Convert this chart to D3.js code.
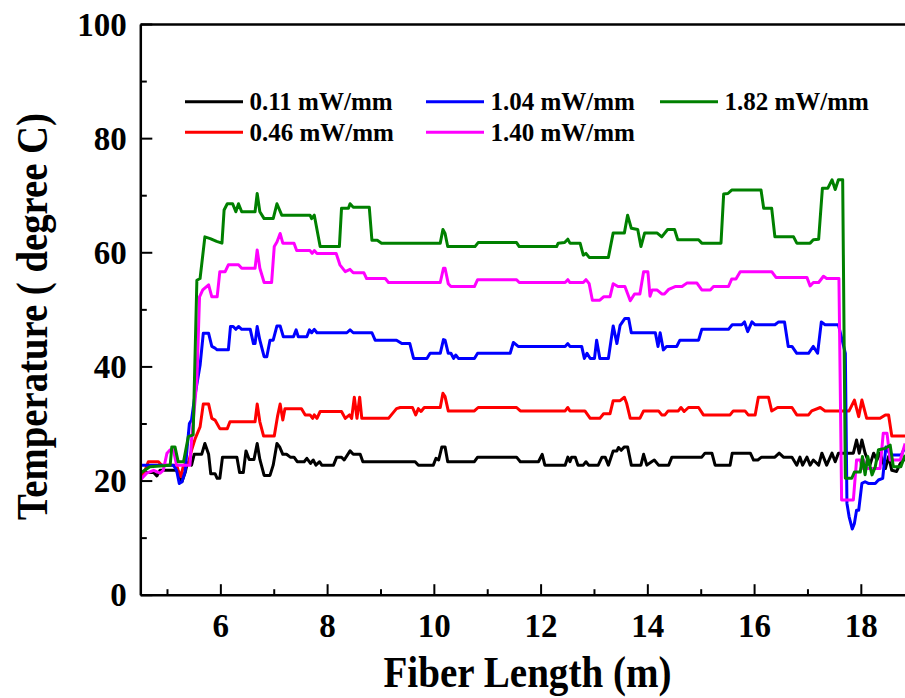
<!DOCTYPE html>
<html>
<head>
<meta charset="utf-8">
<script src="https://cdn.jsdelivr.net/npm/d3@7"></script>
<style>
  html, body { margin: 0; padding: 0; background: #fff; }
  svg { display: block; }
  text { font-family: "Liberation Serif", "Times New Roman", serif; font-weight: bold; fill: #000; }
</style>
</head>
<body>
<svg id="chart" width="905" height="698"></svg>
<script>
// ---------------- data ----------------
const seriesLabels = ["0.11 mW/mm", "0.46 mW/mm", "1.04 mW/mm", "1.40 mW/mm", "1.82 mW/mm"];
const seriesColors = ["#000000", "#ff0000", "#0000ff", "#ff00ff", "#008000"];

const xMajorTicks = [6, 8, 10, 12, 14, 16, 18];
const xMinorTicks = [5, 7, 9, 11, 13, 15, 17, 19];
const yMajorTicks = [0, 20, 40, 60, 80, 100];
const yMinorTicks = [10, 30, 50, 70, 90];

const xTitle = "Fiber Length (m)";
const yTitle = "Temperature ( degree C)";

// [fiber length (m), temperature (degree C)]
const p011 = [[4.50,20.1],[4.59,21.4],[4.75,21.4],[4.81,20.8],[4.87,21.8],[5.18,21.8],[5.24,20.4],[5.28,19.8],[5.34,21.4],[5.38,23.0],[5.43,23.3],[5.46,22.7],[5.51,24.6],[5.65,24.6],[5.71,26.5],[5.78,24.6],[5.82,21.2],[5.90,21.2],[5.94,20.4],[5.99,20.4],[6.04,24.1],[6.31,24.1],[6.36,21.4],[6.43,21.4],[6.48,25.2],[6.54,23.7],[6.63,23.7],[6.69,26.5],[6.74,23.7],[6.82,20.9],[6.93,20.9],[6.99,22.7],[7.06,26.5],[7.11,25.9],[7.17,24.6],[7.24,24.6],[7.31,24.1],[7.38,24.1],[7.44,23.3],[7.57,23.3],[7.62,23.9],[7.69,23.0],[7.74,23.6],[7.79,22.7],[7.86,23.3],[7.90,22.7],[8.12,22.7],[8.18,24.1],[8.27,24.1],[8.32,23.6],[8.43,25.2],[8.49,24.6],[8.62,24.6],[8.67,23.3],[9.65,23.3],[9.71,22.7],[9.99,22.7],[10.04,23.9],[10.09,23.6],[10.15,25.9],[10.21,25.9],[10.26,23.3],[10.76,23.3],[10.82,24.1],[11.55,24.1],[11.62,23.3],[11.96,23.3],[12.03,24.6],[12.08,22.7],[12.46,22.7],[12.51,24.1],[12.55,23.3],[12.58,24.1],[12.65,24.1],[12.70,22.7],[12.80,22.7],[12.85,23.3],[12.90,22.7],[13.08,22.7],[13.15,24.1],[13.21,24.1],[13.27,22.7],[13.36,25.2],[13.43,25.2],[13.46,25.8],[13.51,25.3],[13.57,25.9],[13.63,25.9],[13.70,22.7],[13.88,22.7],[13.93,24.6],[13.99,22.7],[14.08,23.3],[14.13,23.6],[14.21,22.7],[14.40,22.7],[14.46,24.1],[15.02,24.1],[15.08,24.8],[15.21,24.8],[15.27,22.7],[15.55,22.7],[15.59,24.8],[15.93,24.8],[15.99,23.6],[16.07,23.6],[16.14,24.1],[16.39,24.1],[16.47,24.8],[16.55,24.1],[16.71,24.1],[16.80,22.7],[16.86,24.1],[16.91,22.7],[16.99,24.1],[17.05,22.7],[17.11,23.6],[17.21,22.7],[17.27,24.8],[17.36,22.7],[17.46,24.8],[17.52,23.3],[17.58,24.8],[17.86,24.8],[17.92,27.1],[17.97,24.8],[18.02,27.1],[18.08,24.8],[18.17,22.7],[18.24,24.8],[18.30,23.6],[18.36,24.8],[18.46,22.1],[18.52,24.2],[18.58,21.8],[18.67,21.6],[18.74,23.0],[18.83,23.9]];

const p046 = [[4.50,20.1],[4.59,21.8],[4.65,23.3],[4.84,23.3],[4.90,22.7],[5.18,22.7],[5.21,21.8],[5.26,20.7],[5.31,22.7],[5.40,23.0],[5.46,25.3],[5.53,27.4],[5.62,29.4],[5.68,33.4],[5.78,33.4],[5.84,30.9],[5.90,30.6],[5.99,29.1],[6.13,29.1],[6.18,30.3],[6.65,30.3],[6.69,33.4],[6.74,30.3],[6.81,27.8],[7.01,27.8],[7.07,31.2],[7.12,33.4],[7.17,30.6],[7.21,32.6],[7.52,32.6],[7.59,31.5],[7.68,31.5],[7.73,30.9],[7.76,31.5],[7.81,30.9],[7.87,32.1],[8.27,32.1],[8.34,30.9],[8.42,31.5],[8.46,30.9],[8.51,34.6],[8.56,30.9],[8.61,34.6],[8.65,30.9],[9.15,30.9],[9.30,32.6],[9.37,32.8],[9.60,32.8],[9.66,31.5],[9.71,32.6],[9.76,32.1],[9.82,32.8],[10.12,32.8],[10.17,35.3],[10.21,34.7],[10.27,32.2],[10.76,32.2],[10.83,32.8],[11.55,32.8],[11.62,32.2],[12.46,32.2],[12.51,32.8],[12.55,32.2],[12.83,32.2],[12.93,30.9],[13.11,30.9],[13.18,31.7],[13.30,31.7],[13.36,34.0],[13.49,34.0],[13.57,34.6],[13.61,33.6],[13.68,30.9],[13.86,30.9],[13.93,32.2],[14.21,32.2],[14.27,31.5],[14.33,31.5],[14.39,32.2],[14.58,32.2],[14.63,32.8],[14.69,32.1],[14.77,32.8],[14.96,32.8],[15.05,31.5],[15.55,31.5],[15.61,32.2],[15.83,32.2],[15.89,31.5],[16.02,31.5],[16.08,34.6],[16.27,34.6],[16.33,32.2],[16.44,32.8],[16.71,32.8],[16.80,31.5],[17.02,31.5],[17.08,32.2],[17.24,32.8],[17.33,32.2],[17.78,32.2],[17.88,34.1],[17.96,31.2],[18.02,34.1],[18.11,30.9],[18.36,30.9],[18.46,31.5],[18.52,31.5],[18.58,27.8],[18.83,27.8]];

const p104 = [[4.50,22.7],[5.12,22.7],[5.18,21.8],[5.23,19.5],[5.28,19.8],[5.34,21.6],[5.38,26.0],[5.42,30.0],[5.46,30.6],[5.51,34.1],[5.62,40.2],[5.68,45.8],[5.78,45.8],[5.84,43.5],[5.90,43.2],[5.94,42.9],[6.15,42.9],[6.19,47.0],[6.24,47.0],[6.29,46.5],[6.34,47.0],[6.40,46.5],[6.56,46.5],[6.62,44.0],[6.65,44.0],[6.69,47.0],[6.74,44.6],[6.82,41.7],[6.87,41.7],[6.93,44.6],[6.99,44.6],[7.06,47.1],[7.12,47.1],[7.18,45.2],[7.37,45.2],[7.42,46.4],[7.46,45.2],[7.62,45.2],[7.67,46.4],[7.71,45.9],[7.76,46.5],[7.81,45.9],[8.37,45.9],[8.43,46.4],[8.49,45.9],[8.84,45.9],[8.90,44.6],[9.30,44.6],[9.40,44.0],[9.55,44.0],[9.62,41.4],[9.87,41.4],[9.93,42.3],[10.12,42.3],[10.18,44.7],[10.21,44.6],[10.27,42.3],[10.32,42.3],[10.37,41.4],[10.41,42.0],[10.46,41.4],[10.76,41.4],[10.82,42.3],[11.43,42.3],[11.49,44.2],[11.58,43.5],[12.46,43.5],[12.51,44.0],[12.55,43.5],[12.77,43.5],[12.82,41.4],[12.87,42.3],[12.93,41.4],[13.01,41.4],[13.05,44.6],[13.11,41.4],[13.27,41.4],[13.33,45.2],[13.36,47.1],[13.43,44.0],[13.49,47.2],[13.58,48.4],[13.65,48.4],[13.70,45.9],[14.15,45.9],[14.20,43.5],[14.24,45.9],[14.30,42.9],[14.36,43.5],[14.55,43.5],[14.61,44.6],[14.96,44.6],[15.02,46.5],[15.52,46.5],[15.59,47.3],[15.77,47.3],[15.82,47.8],[15.88,46.1],[15.96,47.8],[16.02,47.3],[16.39,47.3],[16.46,47.8],[16.57,47.8],[16.64,43.5],[16.71,43.5],[16.80,42.3],[17.02,42.3],[17.11,43.5],[17.19,42.3],[17.26,47.8],[17.33,47.3],[17.58,47.3],[17.71,42.3],[17.74,16.0],[17.78,13.7],[17.84,11.5],[17.88,12.5],[17.92,14.8],[17.96,14.8],[18.02,19.5],[18.08,19.8],[18.14,19.5],[18.27,19.5],[18.33,20.1],[18.41,20.4],[18.47,25.9],[18.55,24.5],[18.76,24.5],[18.83,25.9]];

const p140 = [[4.50,20.1],[4.62,21.3],[4.75,21.8],[4.87,21.3],[4.93,21.8],[5.00,24.8],[5.06,25.4],[5.12,25.4],[5.18,22.7],[5.43,22.7],[5.46,27.1],[5.56,37.6],[5.61,52.2],[5.67,53.4],[5.78,54.3],[5.84,52.2],[5.94,52.2],[5.99,56.6],[6.09,56.6],[6.15,57.8],[6.34,57.8],[6.40,57.2],[6.65,57.2],[6.69,60.4],[6.74,57.2],[6.82,54.7],[6.96,54.7],[7.01,61.0],[7.06,61.8],[7.12,63.3],[7.17,61.6],[7.38,61.6],[7.43,60.3],[7.68,60.3],[7.72,59.8],[7.76,60.3],[7.81,59.8],[8.17,59.8],[8.24,57.8],[8.34,56.6],[8.43,57.0],[8.49,56.4],[8.69,56.4],[8.74,55.4],[9.09,55.4],[9.15,54.7],[10.12,54.7],[10.18,57.2],[10.21,57.2],[10.27,54.5],[10.32,54.0],[10.76,54.0],[10.82,55.2],[11.55,55.2],[11.60,54.7],[12.46,54.7],[12.51,55.2],[12.55,54.7],[12.80,54.7],[12.85,55.2],[12.91,54.5],[12.97,51.6],[13.11,51.6],[13.18,52.2],[13.30,52.2],[13.36,54.5],[13.45,54.0],[13.58,54.0],[13.68,51.5],[13.76,52.7],[13.86,52.7],[13.93,56.6],[14.01,56.6],[14.05,52.3],[14.09,53.4],[14.18,53.4],[14.27,52.7],[14.32,52.7],[14.40,53.5],[14.52,54.0],[14.65,54.0],[14.74,54.6],[14.93,54.6],[15.02,53.4],[15.18,53.4],[15.24,54.0],[15.52,54.0],[15.58,55.3],[15.66,55.3],[15.74,56.6],[16.33,56.6],[16.41,55.6],[16.99,55.6],[17.05,54.1],[17.11,54.7],[17.21,54.7],[17.30,55.8],[17.36,55.4],[17.59,55.4],[17.64,16.6],[17.86,16.6],[17.92,23.6],[17.99,23.6],[18.02,22.1],[18.05,23.6],[18.11,22.1],[18.36,22.1],[18.42,28.3],[18.49,28.3],[18.55,23.6],[18.74,23.6],[18.83,26.5]];

const p182 = [[4.50,21.3],[4.68,22.4],[5.06,22.7],[5.09,25.9],[5.15,25.9],[5.21,23.3],[5.31,23.3],[5.40,27.7],[5.49,28.0],[5.56,55.1],[5.62,55.4],[5.71,62.7],[5.81,62.4],[5.93,61.9],[6.03,61.6],[6.07,67.4],[6.13,68.5],[6.23,68.5],[6.29,67.1],[6.34,68.5],[6.40,67.1],[6.65,67.1],[6.69,70.3],[6.74,67.1],[6.82,65.9],[6.99,65.9],[7.06,68.5],[7.15,66.5],[7.68,66.5],[7.71,65.9],[7.76,66.5],[7.87,61.0],[8.23,61.0],[8.27,67.7],[8.40,67.7],[8.43,68.5],[8.49,67.9],[8.79,67.9],[8.84,62.1],[8.94,62.1],[9.02,61.6],[10.12,61.6],[10.17,64.0],[10.21,63.3],[10.26,61.0],[10.77,61.0],[10.83,61.7],[11.55,61.7],[11.60,61.0],[12.30,61.0],[12.33,61.6],[12.45,61.7],[12.51,62.3],[12.55,61.6],[12.74,61.6],[12.80,59.5],[12.85,59.8],[12.91,59.1],[13.27,59.1],[13.36,63.4],[13.57,63.4],[13.63,66.5],[13.70,64.2],[13.82,64.0],[13.88,61.0],[13.95,63.4],[14.18,63.4],[14.27,62.7],[14.38,64.0],[14.51,64.0],[14.57,62.2],[14.96,62.2],[15.02,61.6],[15.38,61.6],[15.43,70.2],[15.51,70.3],[15.58,70.9],[16.13,70.9],[16.18,67.7],[16.33,67.7],[16.39,62.7],[16.74,62.7],[16.80,61.6],[17.05,61.6],[17.11,62.2],[17.21,62.3],[17.28,71.2],[17.38,71.2],[17.46,72.7],[17.52,71.0],[17.58,72.7],[17.66,72.7],[17.71,20.4],[17.83,20.4],[17.88,21.5],[17.99,21.5],[18.03,24.2],[18.08,21.0],[18.13,24.2],[18.21,21.0],[18.27,22.4],[18.33,25.4],[18.45,25.6],[18.55,26.2],[18.61,22.4],[18.75,22.4],[18.83,24.5]];

const seriesData = [p011, p046, p104, p140, p182];

// legend layout: [column, row] for each series
const legendSlots = [[0, 0], [0, 1], [1, 0], [1, 1], [2, 0]];

// ---------------- chart ----------------
(function () {
const svg = d3.select("#chart");
const W = 905, H = 698;
const padL = 140.3, padT = 24, padB = 594.7, padR = 914.2;

const x = d3.scaleLinear().domain([4.5, 19]).range([padL, padR]);
const y = d3.scaleLinear().domain([0, 100]).range([padB, padT]);

svg.append("rect").attr("width", W).attr("height", H).attr("fill", "#fff");

svg.append("defs").append("clipPath").attr("id", "plotclip")
  .append("rect").attr("x", padL).attr("y", padT).attr("width", padR - padL).attr("height", padB - padT);

// data lines
const line = d3.line().x(d => x(d[0])).y(d => y(d[1]));
const lines = svg.append("g").attr("clip-path", "url(#plotclip)");
seriesData.forEach((pts, i) => {
  lines.append("path")
    .attr("d", line(pts))
    .attr("fill", "none")
    .attr("stroke", seriesColors[i])
    .attr("stroke-width", 3)
    .attr("stroke-linejoin", "round")
    .attr("stroke-linecap", "butt");
});

// axes
function styleAxis(g) {
  g.select(".domain").attr("stroke", "#000").attr("stroke-width", 2.5);
  g.selectAll(".tick line").attr("stroke", "#000").attr("stroke-width", 2);
}
const tickFont = "33px";

const gxMajor = svg.append("g").attr("transform", `translate(0,${padB})`)
  .call(d3.axisBottom(x).tickValues(xMajorTicks).tickSizeInner(-10.5).tickSizeOuter(0).tickFormat(d3.format("d")));
styleAxis(gxMajor);
gxMajor.selectAll(".tick text")
  .attr("y", 42).attr("dy", null)
  .style("font-size", tickFont).style("font-family", "'Liberation Serif', serif").style("font-weight", "bold").attr("fill", "#000");

const gxMinor = svg.append("g").attr("transform", `translate(0,${padB})`)
  .call(d3.axisBottom(x).tickValues(xMinorTicks).tickSizeInner(-5.5).tickSizeOuter(0).tickFormat(""));
styleAxis(gxMinor);
gxMinor.select(".domain").remove();

const gyMajor = svg.append("g").attr("transform", `translate(${padL},0)`)
  .call(d3.axisLeft(y).tickValues(yMajorTicks).tickSizeInner(-12).tickSizeOuter(0).tickFormat(d3.format("d")));
styleAxis(gyMajor);
gyMajor.selectAll(".tick text")
  .attr("x", -13.6).attr("dy", "0.34em")
  .style("font-size", tickFont).style("font-family", "'Liberation Serif', serif").style("font-weight", "bold").attr("fill", "#000");

const gyMinor = svg.append("g").attr("transform", `translate(${padL},0)`)
  .call(d3.axisLeft(y).tickValues(yMinorTicks).tickSizeInner(-6.5).tickSizeOuter(0).tickFormat(""));
styleAxis(gyMinor);
gyMinor.select(".domain").remove();

const gTop = svg.append("g").attr("transform", `translate(0,${padT})`)
  .call(d3.axisTop(x).tickValues([]).tickSizeOuter(0));
styleAxis(gTop);

const gRight = svg.append("g").attr("transform", `translate(${padR},0)`)
  .call(d3.axisRight(y).tickValues([]).tickSizeOuter(0));
styleAxis(gRight);

// axis titles
svg.append("text")
  .attr("x", 527.5).attr("y", 687)
  .attr("text-anchor", "middle")
  .style("font-size", "44px")
  .attr("textLength", 288).attr("lengthAdjust", "spacingAndGlyphs")
  .text(xTitle);

svg.append("text")
  .attr("transform", "translate(46.5,316.5) rotate(-90)")
  .attr("text-anchor", "middle")
  .style("font-size", "45px")
  .attr("textLength", 407).attr("lengthAdjust", "spacingAndGlyphs")
  .text(yTitle);

// legend
const legColX = [185, 426, 660];
const legRowY = [101.7, 132.3];
const leg = svg.append("g");
seriesLabels.forEach((lab, i) => {
  const [c, r] = legendSlots[i];
  const lx = legColX[c], ly = legRowY[r];
  leg.append("line")
    .attr("x1", lx).attr("x2", lx + 58)
    .attr("y1", ly).attr("y2", ly)
    .attr("stroke", seriesColors[i]).attr("stroke-width", 3);
  leg.append("text")
    .attr("x", lx + 64.5).attr("y", ly + 8.5)
    .style("font-size", "25px")
    .text(lab);
});
})();
</script>
</body>
</html>
